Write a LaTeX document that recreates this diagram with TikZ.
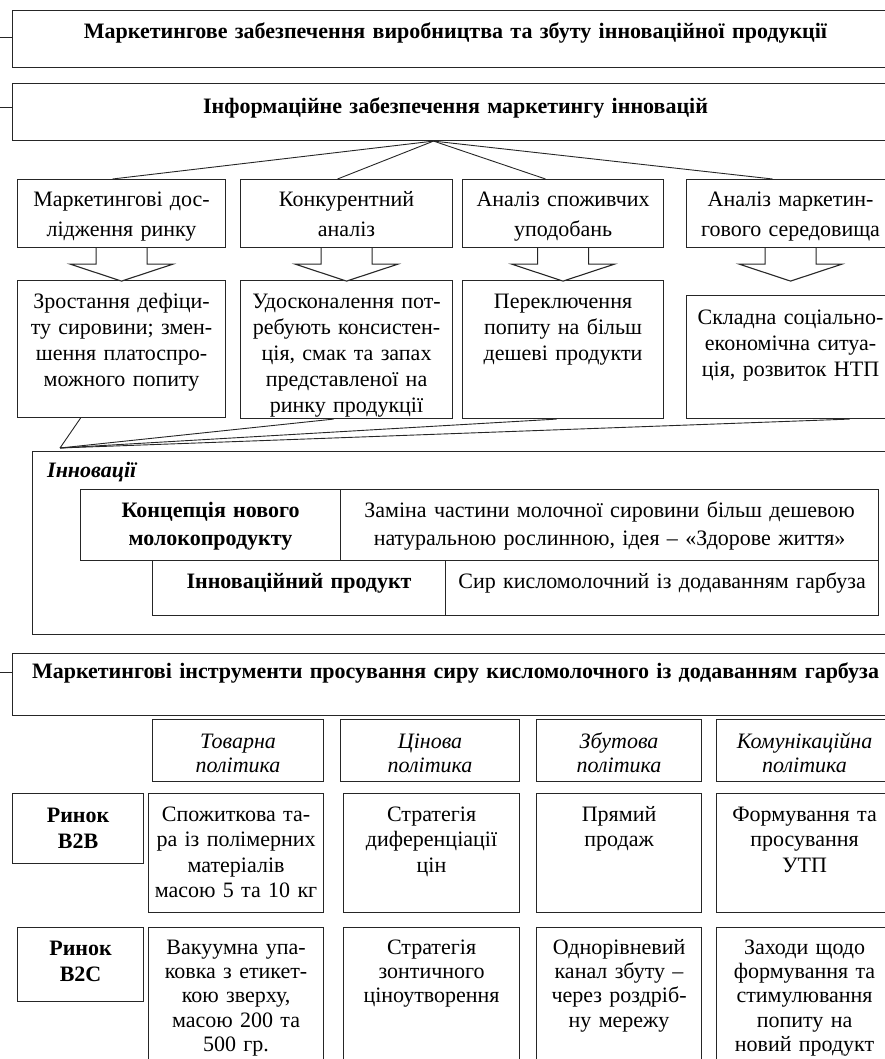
\documentclass[tikz,border=0pt]{standalone}
\usepackage{fontspec}
\setmainfont{Liberation Serif}
\usetikzlibrary{calc}

\tikzset{
  box/.style={draw=black!85, line width=1.1pt, anchor=north west, inner sep=0pt, align=center},
  wh/.style n args={3}{text width=#1pt, text height=#3pt, text depth=#2pt-#3pt},
  titlebox/.style={box, font=\fontsize{22}{26}\selectfont\bfseries},
  srcbox/.style={box, font=\fontsize{22}{30}\selectfont},
  factbox/.style={box, font=\fontsize{22}{26}\selectfont},
  tabhead/.style={box, font=\fontsize{22}{28}\selectfont\bfseries},
  tabtext/.style={box, font=\fontsize{22}{28}\selectfont},
  polbox/.style={box, font=\fontsize{22}{24}\selectfont\itshape},
  mktbox/.style={box, font=\fontsize{22}{26}\selectfont\bfseries},
  cellbox/.style={box, font=\fontsize{22}{25.3}\selectfont},
  lowcell/.style={box, font=\fontsize{22}{24.2}\selectfont},
  link/.style={draw=black!85, line width=0.9pt},
  blockarr/.style={draw=black!85, line width=1.1pt, fill=white, line join=miter},
}

\begin{document}
\begin{tikzpicture}[x=1pt,y=-1pt]
  \useasboundingbox (0,0) rectangle (885,1059);
  \clip (0,0) rectangle (885,1059);

  % headers
  \node[titlebox, wh={886}{57}{28}] (mzv) at (12,10)
    {Маркетингове забезпечення виробництва та збуту інноваційної продукції};
  \node[titlebox, wh={886}{57}{30}] (izm) at (12,83)
    {Інформаційне забезпечення маркетингу інновацій};

  % sources of information
  \node[srcbox, wh={208}{68}{27}] (a1) at (17,179) {Маркетингові дос-\\лідження ринку};
  \node[srcbox, wh={212}{68}{27}] (a2) at (240,179) {Конкурентний\\аналіз};
  \node[srcbox, wh={201}{68}{27}] (a3) at (462,179) {Аналіз споживчих\\уподобань};
  \node[srcbox, wh={208}{68}{27}] (a4) at (686,179) {Аналіз маркетин-\\гового середовища};

  % findings
  \node[factbox, wh={208}{137}{28}] (b1) at (17,280)
    {Зростання дефіци-\\ту сировини; змен-\\шення платоспро-\\можного попиту};
  \node[factbox, wh={212}{138}{28}] (b2) at (240,280)
    {Удосконалення пот-\\ребують консистен-\\ція, смак та запах\\представленої на\\ринку продукції};
  \node[factbox, wh={201}{138}{28}] (b3) at (462,280)
    {Переключення\\попиту на більш\\дешеві продукти};
  \node[factbox, wh={208}{123}{29}] (b4) at (686,295)
    {Складна соціально-\\економічна ситуа-\\ція, розвиток НТП};

  % innovations
  \node[box, minimum width=868pt, minimum height=183pt] (inn) at (32,451) {};
  \node[anchor=base west, inner sep=0pt, font=\fontsize{22}{26}\selectfont\bfseries\itshape]
    (innlbl) at (47,477) {Інновації};
  \node[tabhead, wh={260}{71}{28}] (c1) at (80,489) {Концепція нового\\молокопродукту};
  \node[tabtext, wh={538}{71}{28}] (c2) at (340,489)
    {Заміна частини молочної сировини більш дешевою\\натуральною рослинною, ідея – «Здорове життя»};
  \node[tabhead, wh={293}{55}{28}] (d1) at (152,560) {Інноваційний продукт};
  \node[tabtext, wh={433}{55}{28}] (d2) at (445,560) {Сир кисломолочний із додаванням гарбуза};

  % marketing tools
  \node[titlebox, wh={886}{62}{25}] (mit) at (12,653)
    {Маркетингові інструменти просування сиру кисломолочного із додаванням гарбуза};
  \node[polbox, wh={171}{62}{29}] (p1) at (152,719) {Товарна\\політика};
  \node[polbox, wh={179}{62}{29}] (p2) at (340,719) {Цінова\\політика};
  \node[polbox, wh={165}{62}{29}] (p3) at (536,719) {Збутова\\політика};
  \node[polbox, wh={176}{62}{29}] (p4) at (716,719) {Комунікаційна\\політика};

  \node[mktbox, wh={131}{70}{29}] (b2b) at (12,793) {Ринок\\B2B};
  \node[cellbox, wh={175}{119}{28}] (r11) at (148,793)
    {Спожиткова та-\\ра із полімерних\\матеріалів\\масою 5 та 10 кг};
  \node[cellbox, wh={176}{119}{28}] (r12) at (343,793) {Стратегія\\диференціації\\цін};
  \node[cellbox, wh={165}{119}{28}] (r13) at (536,793) {Прямий\\продаж};
  \node[cellbox, wh={176}{119}{28}] (r14) at (716,793) {Формування та\\просування\\УТП};

  \node[mktbox, wh={126}{74}{28}] (b2c) at (17,927) {Ринок\\B2C};
  \node[lowcell, wh={175}{150}{27}] (r21) at (148,927)
    {Вакуумна упа-\\ковка з етикет-\\кою зверху,\\масою 200 та\\500 гр.};
  \node[lowcell, wh={176}{150}{27}] (r22) at (343,927) {Стратегія\\зонтичного\\ціноутворення};
  \node[lowcell, wh={165}{150}{27}] (r23) at (536,927)
    {Однорівневий\\канал збуту –\\через роздріб-\\ну мережу};
  \node[lowcell, wh={176}{150}{27}] (r24) at (716,927)
    {Заходи щодо\\формування та\\стимулювання\\попиту на\\новий продукт};

  % stubs on the left
  \coordinate (s1) at (0,37);
  \coordinate (s2) at (0,107);
  \coordinate (s3) at (0,672);
  \draw[link] (s1) -- (s1 -| mzv.west);
  \draw[link] (s2) -- (s2 -| izm.west);
  \draw[link] (s3) -- (s3 -| mit.west);

  % fan out to the sources
  \coordinate (apex) at ($(izm.south)+(-22,0)$);
  \draw[link] (apex) -- ($(a1.north)+(-9,0)$);
  \draw[link] (apex) -- ($(a2.north)+(-9,0)$);
  \draw[link] (apex) -- ($(a3.north)+(-17.5,0)$);
  \draw[link] (apex) -- ($(a4.north)+(-18,0)$);

  % block arrows
  \foreach \n in {a1,a2,a3,a4}
    \draw[blockarr] ($(\n.south)+(-25.5,0)$) -- ++(0,16) -- ++(-26,0) -- ++(51.5,17)
      -- ++(51.5,-17) -- ++(-26,0) -- ++(0,-16);

  % fan in to innovations
  \coordinate (meet) at ($(inn.north west)+(28,-3)$);
  \draw[link] ($(b1.south)+(-41,0)$) -- (meet);
  \draw[link] ($(b2.south)+(-13,0)$) -- (meet);
  \draw[link] ($(b3.south)+(-6.5,0)$) -- (meet);
  \draw[link] ($(b4.south)+(59,0)$) -- (meet);
\end{tikzpicture}
\end{document}
